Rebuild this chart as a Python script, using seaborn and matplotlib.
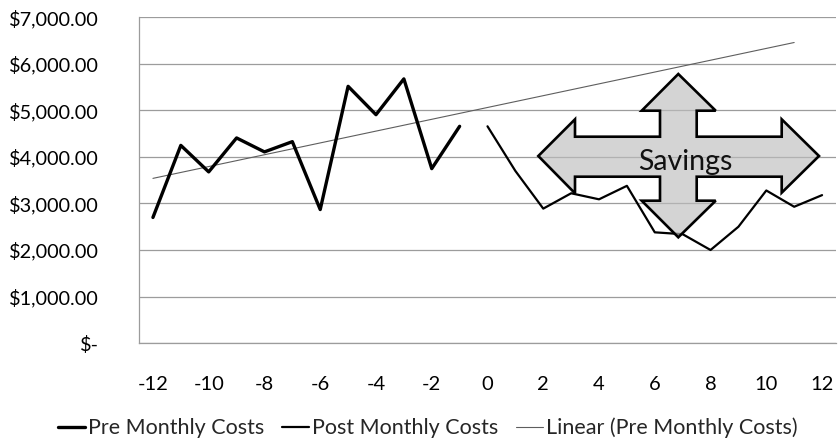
import numpy as np
import pandas as pd
import matplotlib
matplotlib.use("Agg")
import matplotlib.pyplot as plt
from matplotlib.patches import Polygon
from matplotlib.ticker import FuncFormatter
import seaborn as sns

# Monthly costs before and after the change (month offsets relative to switch-over)
pre_months = list(range(-12, 0))
pre_costs = [2700, 4250, 3680, 4410, 4110, 4330, 2870, 5520, 4910, 5680, 3750, 4660]
post_months = list(range(0, 13))
post_costs = [4660, 3700, 2890, 3220, 3090, 3380, 2380, 2340, 2000, 2500, 3280, 2930, 3180]
trend_months = list(range(-12, 12))
y_ticks = [0, 1000, 2000, 3000, 4000, 5000, 6000, 7000]
x_ticks = list(range(-12, 13, 2))
series_names = ["Pre Monthly Costs", "Post Monthly Costs", "Linear (Pre Monthly Costs)"]
callout_text = "Savings"

sns.set_theme(style="white")
plt.rcParams["font.family"] = ["Lato", "DejaVu Sans"]

fig = plt.figure(figsize=(8.38, 4.44), dpi=100)
ax = fig.add_axes([139 / 838, 1 - 343 / 444, 697 / 838, 325.5 / 444])

pre_df = pd.DataFrame({"month": pre_months, "cost": pre_costs})
post_df = pd.DataFrame({"month": post_months, "cost": post_costs})

# Least-squares trend of the pre period, projected forward
slope, intercept = np.polyfit(pre_df["month"], pre_df["cost"], 1)
trend_df = pd.DataFrame({"month": trend_months})
trend_df["cost"] = slope * trend_df["month"] + intercept

sns.lineplot(data=pre_df, x="month", y="cost", ax=ax, color="black", lw=2.4,
             label=series_names[0], zorder=4)
sns.lineplot(data=post_df, x="month", y="cost", ax=ax, color="black", lw=1.6,
             label=series_names[1], zorder=4)
sns.lineplot(data=trend_df, x="month", y="cost", ax=ax, color="#5e5e5e", lw=0.8,
             label=series_names[2], zorder=3)

ax.set_xlim(-12.5, 12.5)
ax.set_ylim(0, 7000)
ax.set_yticks(y_ticks)
ax.set_xticks(x_ticks)


def money(v, _):
    if v == 0:
        return "$-"
    return "${:,.2f}".format(v)


ax.yaxis.set_major_formatter(FuncFormatter(money))
ax.xaxis.set_major_formatter(FuncFormatter(lambda v, _: "{:d}".format(int(round(v)))))
ax.grid(axis="y", color="#9c9c9c", lw=0.9)
ax.grid(axis="x", visible=False)
for side in ("top", "right"):
    ax.spines[side].set_visible(False)
for side in ("left", "bottom"):
    ax.spines[side].set_color("#9c9c9c")
    ax.spines[side].set_linewidth(0.9)
ax.tick_params(axis="y", length=0, pad=29, labelsize=14.3, colors="black")
ax.tick_params(axis="x", length=0, pad=24, labelsize=14.5, colors="black")
ax.set_xlabel("")
ax.set_ylabel("")

# Four-way "Savings" callout, placed in axes-fraction coordinates
W, H = 697.0, 325.5
def fx(px):
    return (px - 139) / W
def fy(py):
    return (343 - py) / H

cx = 678.3
outline_px = [
    (cx, 74), (715.7, 110.7), (696.7, 110.7), (696.7, 136.7), (781.7, 136.7),
    (781.7, 119.3), (819, 156), (781.7, 192.7), (781.7, 176.7), (696.7, 176.7),
    (696.7, 200.7), (715.7, 200.7), (cx, 237.3), (641.7, 200.7), (660, 200.7),
    (660, 176.7), (575, 176.7), (575, 193.3), (538.3, 156), (575, 119.3),
    (575, 136.7), (660, 136.7), (660, 110.7), (641.7, 110.7),
]
shape = Polygon([(fx(a), fy(b)) for a, b in outline_px], closed=True,
                transform=ax.transAxes, facecolor="#bdbdbd", alpha=0.65,
                edgecolor="none", zorder=5)
edge = Polygon([(fx(a), fy(b)) for a, b in outline_px], closed=True,
               transform=ax.transAxes, facecolor="none", edgecolor="black",
               lw=1.9, joinstyle="miter", zorder=6)
ax.add_patch(shape)
ax.add_patch(edge)
ax.text(fx(685), fy(162), callout_text, transform=ax.transAxes, ha="center",
        va="center", fontsize=20.5, color="#111111", zorder=7)

ax.legend(loc="center", bbox_to_anchor=(fx(428), fy(428)),
          ncol=3, frameon=False, fontsize=15.5, handlelength=1.25,
          handletextpad=0.12, columnspacing=0.85, borderaxespad=0)

fig.savefig("out.png", dpi=100, facecolor="white")
